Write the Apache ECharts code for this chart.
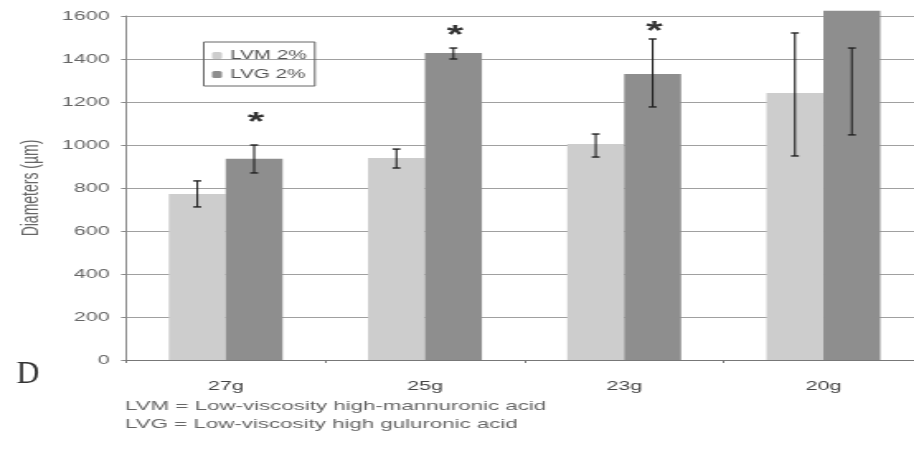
<!DOCTYPE html>
<html>
<head>
<meta charset="utf-8">
<script src="https://cdn.jsdelivr.net/npm/echarts@6/dist/echarts.min.js"></script>
<style>
	html, body { margin: 0; padding: 0; background: #fff; overflow: hidden; }
	/* the source figure is stretched sideways, so draw narrow and stretch */
	#chart { width: 560px; height: 463px; transform: scaleX(1.65); transform-origin: 0 0; }
</style>
</head>
<body>
<div id="chart"></div>
<script>
	// data
	var categories = ['27g', '25g', '23g', '20g'];
	var lvmValues = [772, 940, 1005, 1242];
	var lvgValues = [936, 1428, 1330, 1625];
	var lvmErrLow = [712, 893, 944, 949];
	var lvmErrHigh = [833, 981, 1051, 1521];
	var lvgErrLow = [870, 1400, 1177, 1047];
	var lvgErrHigh = [1000, 1451, 1493, 1451];
	// significance stars (category index, value where the star sits)
	var starCats = [0, 1, 2];
	var starValues = [1140, 1544, 1563];

	var barW = 34.5;

	function errData(low, high, side) {
		var out = [];
		for (var i = 0; i < categories.length; i++) {
			out.push([i, low[i], high[i], side]);
		}
		return out;
	}

	var errItem = function(params, api) {
		var side = api.value(3);
		var x = api.coord([api.value(0), 0])[0] + side * barW / 2;
		var yl = api.coord([api.value(0), api.value(1)])[1];
		var yh = api.coord([api.value(0), api.value(2)])[1];
		var cap = 2.4;
		var st = { stroke: '#222', lineWidth: 1.4 };
		return {
			type: 'group',
			children: [
				{ type: 'line', shape: { x1: x, y1: yl, x2: x, y2: yh }, style: { stroke: '#222', lineWidth: 1.1 } },
				{ type: 'line', shape: { x1: x - cap, y1: yl, x2: x + cap, y2: yl }, style: st },
				{ type: 'line', shape: { x1: x - cap, y1: yh, x2: x + cap, y2: yh }, style: st }
			]
		};
	};

	var starData = starCats.map(function(c, i) { return [c, starValues[i]]; });

	var font = '"Liberation Sans", Arial, sans-serif';
	var myChart = echarts.init(document.getElementById('chart'));
	var option = {
		animation: false,
		textStyle: { fontFamily: font },
		grid: {
			left: 76.4,
			top: 16,
			width: 483,
			height: 344,
			outerBoundsMode: 'none'
		},
		legend: {
			orient: 'vertical',
			left: 123.5,
			top: 42,
			data: ['LVM 2%', 'LVG 2%'],
			itemWidth: 6,
			itemHeight: 7,
			itemGap: 6,
			padding: [7, 5, 5, 5],
			borderColor: '#666',
			borderWidth: 1,
			textStyle: { fontSize: 12.5, color: '#555' }
		},
		xAxis: {
			type: 'category',
			data: categories,
			axisLine: { lineStyle: { color: '#777' } },
			axisTick: { show: true, length: 3, lineStyle: { color: '#777' } },
			axisLabel: { fontSize: 13, color: '#444', margin: 20 }
		},
		yAxis: {
			type: 'value',
			min: 0,
			max: 1600,
			interval: 200,
			name: 'Diameters (µm)',
			nameLocation: 'middle',
			nameGap: 39,
			nameTextStyle: { fontSize: 14, color: '#666' },
			axisLine: { show: true, lineStyle: { color: '#888' } },
			axisTick: { show: true, length: 3, lineStyle: { color: '#888' } },
			axisLabel: {
				fontSize: 13, color: '#666', margin: 10,
				formatter: function(v) { return String(v); }
			},
			splitLine: { lineStyle: { color: '#a0a0a0', width: 1 } }
		},
		graphic: [
			{ type: 'text', left: 10, top: 359, scaleX: 0.6, style: { text: 'D', font: '32px "Liberation Serif", serif', fill: '#333' } },
			{ type: 'text', left: 75.8, top: 399, style: { text: 'LVM = Low-viscosity high-mannuronic acid', font: '13.5px ' + font, fill: '#666' } },
			{ type: 'text', left: 75.8, top: 417, style: { text: 'LVG = Low-viscosity high guluronic acid', font: '13.5px ' + font, fill: '#666' } }
		],
		series: [
			{
				name: 'LVM 2%',
				type: 'bar',
				data: lvmValues,
				barWidth: barW,
				barGap: '0%',
				itemStyle: { color: '#cdcdcd' },
				clip: false
			},
			{
				name: 'LVG 2%',
				type: 'bar',
				data: lvgValues,
				barWidth: barW,
				barGap: '0%',
				itemStyle: { color: '#8e8e8e' },
				clip: false
			},
			{
				type: 'custom',
				data: errData(lvmErrLow, lvmErrHigh, -1).concat(errData(lvgErrLow, lvgErrHigh, 1)),
				renderItem: errItem,
				clip: false,
				z: 5
			},
			{
				type: 'custom',
				data: starData,
				clip: false,
				z: 5,
				renderItem: function(params, api) {
					var p = api.coord([api.value(0), api.value(1)]);
					return {
						type: 'text',
						x: p[0] + barW / 2 + 1,
						y: p[1] + 8,
						style: {
							text: '*',
							font: 'bold 26px ' + font,
							fill: '#333',
							align: 'center',
							verticalAlign: 'middle'
						}
					};
				}
			}
		]
	};
	myChart.setOption(option);
</script>
</body>
</html>
